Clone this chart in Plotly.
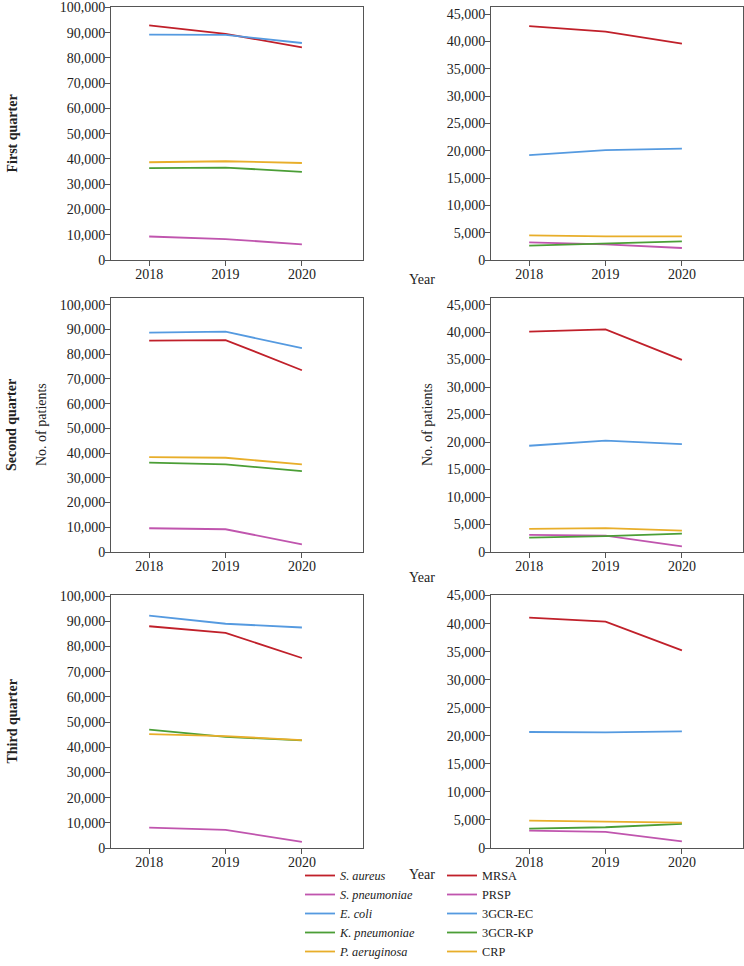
import plotly.graph_objects as go
from plotly.subplots import make_subplots

years = [2018, 2019, 2020]

species_names = ["<i>S. aureus</i>", "<i>S. pneumoniae</i>", "<i>E. coli</i>",
                 "<i>K. pneumoniae</i>", "<i>P. aeruginosa</i>"]
resistant_names = ["MRSA", "PRSP", "3GCR-EC", "3GCR-KP", "CRP"]
quarter_labels = ["First quarter", "Second quarter", "Third quarter"]
colors = ["#C0202A", "#C055AE", "#559AE0", "#4B9E36", "#E8AE2A"]

# Order within each list: S. aureus, S. pneumoniae, E. coli, K. pneumoniae, P. aeruginosa
q1_species = [[92900, 89500, 84200],
              [9300, 8300, 6200],
              [89200, 89100, 85900],
              [36400, 36600, 34900],
              [38700, 39100, 38400]]
q2_species = [[85500, 85700, 73500],
              [9600, 9200, 3100],
              [88700, 89100, 82400],
              [36100, 35400, 32700],
              [38400, 38100, 35400]]
q3_species = [[88000, 85400, 75400],
              [8100, 7200, 2400],
              [92200, 89000, 87500],
              [47000, 44100, 42700],
              [45200, 44400, 42800]]

# Order: MRSA, PRSP, 3GCR-EC, 3GCR-KP, CRP
q1_resistant = [[42800, 41800, 39600],
                [3230, 2870, 2200],
                [19200, 20100, 20370],
                [2620, 2990, 3410],
                [4510, 4330, 4330]]
q2_resistant = [[40100, 40500, 34950],
                [3110, 2990, 1040],
                [19330, 20240, 19630],
                [2620, 2870, 3350],
                [4210, 4330, 3900]]
q3_resistant = [[41060, 40350, 35220],
                [3100, 2860, 1190],
                [20680, 20620, 20800],
                [3460, 3700, 4290],
                [4890, 4770, 4530]]

species_data = [q1_species, q2_species, q3_species]
resistant_data = [q1_resistant, q2_resistant, q3_resistant]

left_ymax = [100150, 102700, 100400]
right_ymax = [46300, 46200, 45100]

W, H = 744, 966
FONT = "Liberation Serif, Times New Roman, serif"
AXC = "#555555"
TXT = "#222222"

fig = make_subplots(rows=3, cols=2)

for r in range(3):
    for i, vals in enumerate(species_data[r]):
        fig.add_trace(go.Scatter(x=years, y=vals, mode="lines", name=species_names[i],
                                 line=dict(color=colors[i], width=1.8),
                                 showlegend=(r == 0), legend="legend"),
                      row=r + 1, col=1)
    for i, vals in enumerate(resistant_data[r]):
        fig.add_trace(go.Scatter(x=years, y=vals, mode="lines", name=resistant_names[i],
                                 line=dict(color=colors[i], width=1.8),
                                 showlegend=(r == 0), legend="legend2"),
                      row=r + 1, col=2)

x_left = [111 / W, 363 / W]
x_right = [491 / W, 743 / W]
rows_px = [(7, 260), (298, 552), (595, 848)]
year_label_px = [280, 577, 874]

axis_common = dict(showline=True, mirror=True, linecolor=AXC, linewidth=1,
                   ticks="outside", ticklen=5, tickcolor=AXC, showgrid=False,
                   zeroline=False, automargin=False,
                   tickfont=dict(family=FONT, size=14, color=TXT))

for r in range(3):
    top, bot = rows_px[r]
    ydom = [1 - bot / H, 1 - top / H]
    for c in range(2):
        idx = r * 2 + c + 1
        xa = "xaxis" if idx == 1 else f"xaxis{idx}"
        ya = "yaxis" if idx == 1 else f"yaxis{idx}"
        fig.layout[xa].update(domain=x_left if c == 0 else x_right,
                              range=[2017.5, 2020.8], tickvals=years,
                              ticktext=[str(y) for y in years],
                              ticklabelstandoff=-4, **axis_common)
        fig.layout[ya].update(domain=ydom,
                              range=[0, left_ymax[r] if c == 0 else right_ymax[r]],
                              dtick=10000 if c == 0 else 5000, tickformat=",",
                              ticklabelstandoff=-3, **axis_common)

annotations = []
for r in range(3):
    top, bot = rows_px[r]
    yc = 1 - (top + bot) / 2 / H
    annotations.append(dict(text=f"<b>{quarter_labels[r]}</b>", x=12 / W, y=yc,
                            xref="paper", yref="paper", textangle=-90, showarrow=False,
                            xanchor="center", yanchor="middle",
                            font=dict(family=FONT, size=14, color=TXT)))
    annotations.append(dict(text="Year", x=422 / W, y=1 - year_label_px[r] / H,
                            xref="paper", yref="paper", showarrow=False,
                            xanchor="center", yanchor="middle",
                            font=dict(family=FONT, size=14, color=TXT)))
for xp in (42, 428):
    annotations.append(dict(text="No. of patients", x=xp / W, y=1 - 425 / H,
                            xref="paper", yref="paper", textangle=-90, showarrow=False,
                            xanchor="center", yanchor="middle",
                            font=dict(family=FONT, size=14, color=TXT)))

legend_common = dict(orientation="v", yanchor="bottom", y=0, xanchor="left",
                     bgcolor="rgba(0,0,0,0)", font=dict(family=FONT, size=12.3, color=TXT),
                     tracegroupgap=0, itemclick=False)

fig.update_layout(
    width=W, height=H, margin=dict(l=0, r=0, t=0, b=0, autoexpand=False),
    paper_bgcolor="white", plot_bgcolor="white",
    hovermode=False,
    annotations=annotations,
    legend=dict(x=300 / W, **legend_common),
    legend2=dict(x=442 / W, **legend_common),
)

fig.write_html("out.html", config={"displayModeBar": False},
               post_script="document.body.style.margin='0';document.body.style.padding='0';")
